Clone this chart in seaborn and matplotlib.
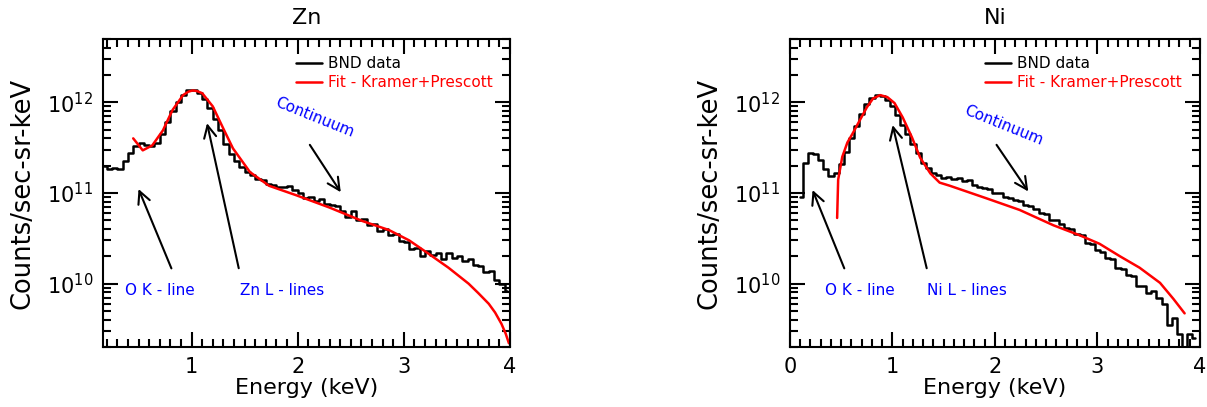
import numpy as np
import pandas as pd
import matplotlib
matplotlib.use("Agg")
import matplotlib.pyplot as plt
import seaborn as sns
from matplotlib.ticker import MultipleLocator, LogLocator, NullFormatter

# --- Zn spectrum (bin centres every 0.05 keV) ---
zn_energy = np.round(np.arange(0.175, 4.0, 0.05), 3)
zn_counts = [
    2.0e11, 1.82e11, 1.9e11, 1.86e11, 2.24e11, 2.75e11, 3.3e11, 3.55e11, 3.4e11, 3.3e11,
    3.6e11, 4.5e11, 6.0e11, 8.1e11, 1.02e12, 1.2e12, 1.35e12, 1.38e12, 1.28e12, 1.1e12,
    8.7e11, 6.6e11, 4.9e11, 3.5e11, 2.7e11, 2.25e11, 1.95e11, 1.7e11, 1.58e11, 1.41e11,
    1.38e11, 1.26e11, 1.23e11, 1.15e11, 1.17e11, 1.2e11, 1.07e11, 1.0e11, 8.7e10, 9.1e10,
    8.1e10, 8.5e10, 7.6e10, 7.4e10, 7.1e10, 6.3e10, 5.5e10, 6.3e10, 5.0e10, 5.2e10,
    4.4e10, 4.5e10, 3.8e10, 4.0e10, 3.4e10, 3.5e10, 2.95e10, 2.9e10, 2.4e10, 2.5e10,
    2.0e10, 2.3e10, 2.05e10, 2.2e10, 1.86e10, 2.15e10, 1.9e10, 2.0e10, 1.78e10, 1.86e10,
    1.62e10, 1.58e10, 1.35e10, 1.38e10, 1.1e10, 1.0e10, 8.3e9,
]
zn_fit_energy = [0.45, 0.54, 0.63, 0.73, 0.82, 0.92, 0.97, 1.01, 1.05, 1.10, 1.20, 1.29,
                 1.39, 1.55, 1.73, 1.99, 2.30, 2.61, 2.86, 3.05, 3.23, 3.42, 3.61, 3.70,
                 3.80, 3.86, 3.92, 3.96, 3.99]
zn_fit = [4.0e11, 2.95e11, 3.35e11, 4.9e11, 8.2e11, 1.2e12, 1.31e12, 1.35e12, 1.33e12,
          1.26e12, 9.0e11, 5.4e11, 3.1e11, 1.7e11, 1.2e11, 9.4e10, 6.9e10, 4.9e10,
          3.9e10, 3.0e10, 2.15e10, 1.5e10, 1.0e10, 7.9e9, 6.0e9, 4.8e9, 3.6e9, 2.8e9, 2.2e9]

# --- Ni spectrum ---
ni_energy = np.round(np.arange(0.10, 3.96, 0.05), 3)
ni_counts = [
    9.0e10, 2.15e11, 2.75e11, 2.7e11, 2.3e11, 1.82e11, 1.55e11, 1.66e11, 2.1e11, 2.8e11,
    4.0e11, 5.5e11, 7.4e11, 9.5e11, 1.12e12, 1.2e12, 1.17e12, 1.07e12, 9.1e11, 7.2e11,
    5.6e11, 4.5e11, 3.5e11, 2.75e11, 2.15e11, 1.9e11, 1.66e11, 1.58e11, 1.48e11, 1.5e11,
    1.41e11, 1.48e11, 1.35e11, 1.38e11, 1.23e11, 1.17e11, 1.12e11, 1.1e11, 1.0e11, 1.0e11,
    9.1e10, 8.9e10, 8.3e10, 8.1e10, 7.4e10, 7.2e10, 6.6e10, 6.0e10, 5.8e10, 5.0e10,
    5.0e10, 4.5e10, 4.1e10, 4.0e10, 3.5e10, 3.4e10, 2.8e10, 2.75e10, 2.35e10, 2.25e10,
    1.9e10, 1.86e10, 1.48e10, 1.45e10, 1.23e10, 1.2e10, 9.5e9, 9.3e9, 7.9e9, 8.3e9,
    6.9e9, 6.0e9, 3.5e9, 4.2e9, 2.8e9, 2.0e9, 2.8e9, 2.5e9,
]
ni_fit_energy = [0.46, 0.47, 0.51, 0.56, 0.61, 0.68, 0.75, 0.81, 0.88, 0.95, 1.02, 1.10,
                 1.19, 1.27, 1.37, 1.46, 1.56, 1.92, 2.24, 2.57, 2.83, 3.02, 3.22, 3.41,
                 3.61, 3.74, 3.85]
ni_fit = [5.3e10, 1.4e11, 2.5e11, 3.6e11, 4.5e11, 6.3e11, 8.8e11, 1.1e12, 1.2e12, 1.14e12,
          9.8e11, 6.8e11, 4.1e11, 2.45e11, 1.64e11, 1.3e11, 1.2e11, 8.7e10, 6.5e10, 4.4e10,
          3.4e10, 2.75e10, 2.0e10, 1.5e10, 1.02e10, 6.8e9, 4.7e9]

sns.set_style("ticks")
plt.rcParams['font.family'] = ['DejaVu Sans']
plt.rcParams['text.color'] = 'black'
plt.rcParams['axes.labelcolor'] = 'black'


def draw_panel(ax, energy, counts, fit_e, fit_v, title, xlim, notes):
    df = pd.DataFrame({'Energy': energy, 'Counts': counts})
    sns.lineplot(data=df, x='Energy', y='Counts', ax=ax, color='black', lw=1.8,
                 drawstyle='steps-mid', estimator=None, label='BND data')
    sns.lineplot(x=fit_e, y=fit_v, ax=ax, color='red', lw=1.8, estimator=None,
                 label='Fit - Kramer+Prescott')
    ax.set_yscale('log')
    ax.set_xlim(*xlim)
    ax.set_ylim(2e9, 5e12)

    ax.xaxis.set_major_locator(MultipleLocator(1))
    ax.xaxis.set_minor_locator(MultipleLocator(0.1))
    ax.yaxis.set_major_locator(LogLocator(base=10, numticks=10))
    ax.yaxis.set_minor_locator(LogLocator(base=10, subs=np.arange(2, 10), numticks=20))
    ax.yaxis.set_minor_formatter(NullFormatter())
    ax.tick_params(which='both', direction='in', top=True, right=True, width=1.5,
                   labelsize=15, colors='black')
    ax.tick_params(which='major', length=11)
    ax.tick_params(which='minor', length=5.5)
    ax.tick_params(axis='x', pad=7)
    ax.tick_params(axis='y', pad=7)
    for s in ax.spines.values():
        s.set_linewidth(1.5)
        s.set_color('black')

    ax.set_title(title, fontsize=16, pad=11, color='black')
    ax.set_xlabel('Energy (keV)', fontsize=16)
    ax.set_ylabel('Counts/sec-sr-keV', fontsize=18.5)
    ax.xaxis.set_label_coords(0.5, -0.1)
    ax.yaxis.set_label_coords(-0.165, 0.5)

    ax.legend(loc='upper left', bbox_to_anchor=(0.475, 0.945), frameon=False, fontsize=11,
              labelcolor='linecolor', handlelength=1.7, handletextpad=0.4,
              borderaxespad=0, borderpad=0, labelspacing=0.3)

    for label, tip, tail, txt_xy, rot in notes:
        ax.annotate('', xy=tip, xytext=tail,
                    arrowprops=dict(arrowstyle='->', color='black', lw=1.5, mutation_scale=22))
        ax.text(txt_xy[0], txt_xy[1], label, color='blue', ha='center', va='center',
                fontsize=11, rotation=rot)


fig = plt.figure(figsize=(12.07, 4.07), dpi=100)
ax1 = fig.add_axes([0.0853, 0.1474, 0.3372, 0.757])
ax2 = fig.add_axes([0.6545, 0.1474, 0.3397, 0.757])

zn_notes = [
    ('Continuum', (2.42, 9.6e10), (2.10, 3.6e11), (2.16, 6.8e11), -22),
    ('O K - line', (0.49, 1.18e11), (0.82, 1.38e10), (0.70, 8.3e9), 0),
    ('Zn L - lines', (1.14, 6.3e11), (1.45, 1.38e10), (1.85, 8.3e9), 0),
]
ni_notes = [
    ('Continuum', (2.34, 9.8e10), (2.00, 3.6e11), (2.08, 5.6e11), -22),
    ('O K - line', (0.21, 1.15e11), (0.54, 1.38e10), (0.68, 8.3e9), 0),
    ('Ni L - lines', (0.995, 6.0e11), (1.34, 1.38e10), (1.73, 8.3e9), 0),
]

draw_panel(ax1, zn_energy, zn_counts, zn_fit_energy, zn_fit, 'Zn', (0.165, 4.0), zn_notes)
draw_panel(ax2, ni_energy, ni_counts, ni_fit_energy, ni_fit, 'Ni', (0.0, 4.0), ni_notes)

fig.savefig('out.png', dpi=100, facecolor='white')
